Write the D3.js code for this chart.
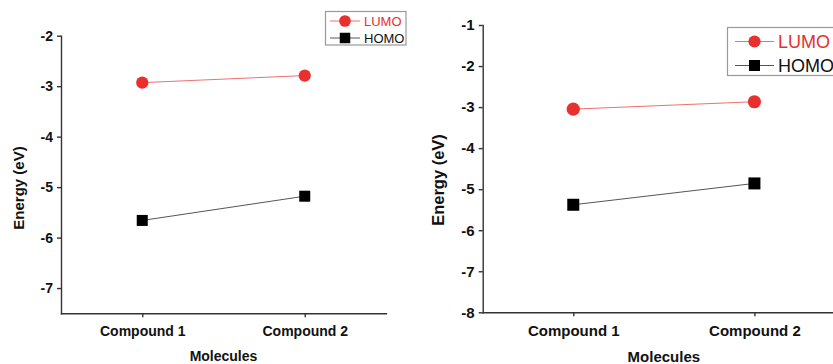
<!DOCTYPE html>
<html>
<head>
<meta charset="utf-8">
<script src="https://cdn.jsdelivr.net/npm/d3@7"></script>
<style>
  body { margin: 0; background: #fff; }
  svg { display: block; font-family: "Liberation Sans", Arial, sans-serif; }
  .axis path, .axis line { stroke: #333; stroke-width: 1.4; }
  .axis text { fill: #111; font-weight: bold; }
</style>
</head>
<body>
<svg id="chart" width="833" height="364"></svg>
<script>
// values
var categories = ["Compound 1", "Compound 2"];
var seriesNames = ["LUMO", "HOMO"];
var lumoLeft = [-2.93, -2.79];
var homoLeft = [-5.66, -5.18];
var lumoRight = [-3.05, -2.87];
var homoRight = [-5.38, -4.86];
var ticksLeft = [-2, -3, -4, -5, -6, -7];
var ticksRight = [-1, -2, -3, -4, -5, -6, -7, -8];

var red = "#e8302e", black = "#000";

function panel(svg, o) {
  var x = d3.scalePoint(categories, [o.x0, o.x1]).padding(0.5),
      y = d3.scaleLinear(o.domain, [o.y0, o.y1]);

  var g = svg.append("g");

  // x axis
  g.append("g")
      .attr("class", "axis")
      .attr("transform", "translate(0," + o.y0 + ")")
      .call(d3.axisBottom(x).tickSize(4).tickSizeOuter(0).tickPadding(9))
      .selectAll("text")
      .style("font-size", o.fs + "px");

  // y axis, plain hyphen for the minus sign like the original
  g.append("g")
      .attr("class", "axis")
      .attr("transform", "translate(" + o.x0 + ",0)")
      .call(d3.axisLeft(y).tickValues(o.ticks).tickSize(4).tickSizeOuter(0).tickPadding(4)
        .tickFormat(function(d) { return String(d); }))
      .selectAll("text")
      .style("font-size", o.tfs + "px");

  g.selectAll(".domain").attr("stroke-linecap", "square");

  g.append("text")
      .attr("x", (o.x0 + o.x1) / 2)
      .attr("y", o.xlabY)
      .attr("text-anchor", "middle")
      .style("font-weight", "bold")
      .style("font-size", o.fs + "px")
      .attr("fill", "#111")
      .text("Molecules");

  g.append("text")
      .attr("transform", "translate(" + o.ylabX + "," + o.ylabY + ") rotate(-90)")
      .attr("text-anchor", "middle")
      .attr("dy", "0.35em")
      .style("font-weight", "bold")
      .style("font-size", o.yfs + "px")
      .attr("fill", "#111")
      .text("Energy (eV)");

  var series = [
    {name: seriesNames[0], values: o.lumo, color: red, line: "#ee7070", shape: "circle"},
    {name: seriesNames[1], values: o.homo, color: black, line: "#555", shape: "square"}
  ];

  var line = d3.line()
      .x(function(d, i) { return x(categories[i]); })
      .y(function(d) { return y(d); });

  series.forEach(function(s) {
    g.append("path")
        .attr("d", line(s.values))
        .attr("fill", "none")
        .attr("stroke", s.line)
        .attr("stroke-width", 1);
    s.values.forEach(function(v, i) {
      marker(g, s.shape, x(categories[i]), y(v), o.ms, s.color);
    });
  });

  // legend
  var lg = g.append("g").attr("transform", "translate(" + o.legX + "," + o.legY + ")");
  lg.append("rect")
      .attr("width", o.legW).attr("height", o.legH)
      .attr("fill", "#fff").attr("stroke", "#999").attr("stroke-width", 1.2);
  series.forEach(function(s, i) {
    var cy = o.legRow0 + i * o.legStep;
    lg.append("line")
        .attr("x1", o.legPad).attr("x2", o.legPad + o.legLine)
        .attr("y1", cy).attr("y2", cy)
        .attr("stroke", s.line).attr("stroke-width", 1);
    marker(lg, s.shape, o.legPad + o.legLine / 2, cy, o.lms, s.color);
    lg.append("text")
        .attr("x", o.legPad + o.legLine + 4)
        .attr("y", cy)
        .attr("dy", "0.36em")
        .style("font-size", o.lfs + "px")
        .attr("fill", s.color === red ? red : "#111")
        .text(s.name);
  });
}

function marker(g, shape, cx, cy, size, color) {
  if (shape === "circle") {
    g.append("circle").attr("cx", cx).attr("cy", cy).attr("r", size / 2 + 0.6).attr("fill", color);
  } else {
    g.append("rect").attr("x", cx - size / 2).attr("y", cy - size / 2)
        .attr("width", size).attr("height", size).attr("fill", color);
  }
}

var svg = d3.select("#chart");

panel(svg, {
  x0: 61, x1: 386, y0: 313.3, y1: 35.7, domain: [-7.5, -2], ticks: ticksLeft,
  lumo: lumoLeft, homo: homoLeft, fs: 14, tfs: 14, yfs: 15, ms: 11,
  xlabY: 361, ylabX: 19, ylabY: 188,
  legX: 325.5, legY: 11.5, legW: 80.5, legH: 33.5, legRow0: 9.5, legStep: 17,
  legPad: 4.5, legLine: 30, lms: 10.5, lfs: 13
});

panel(svg, {
  x0: 482.7, x1: 845, y0: 312.3, y1: 25, domain: [-8, -1], ticks: ticksRight,
  lumo: lumoRight, homo: homoRight, fs: 15, tfs: 15, yfs: 16.5, ms: 12,
  xlabY: 362, ylabX: 438, ylabY: 180,
  legX: 727.5, legY: 27.5, legW: 120, legH: 48, legRow0: 14, legStep: 24,
  legPad: 7.5, legLine: 39, lms: 11, lfs: 18
});
</script>
</body>
</html>
